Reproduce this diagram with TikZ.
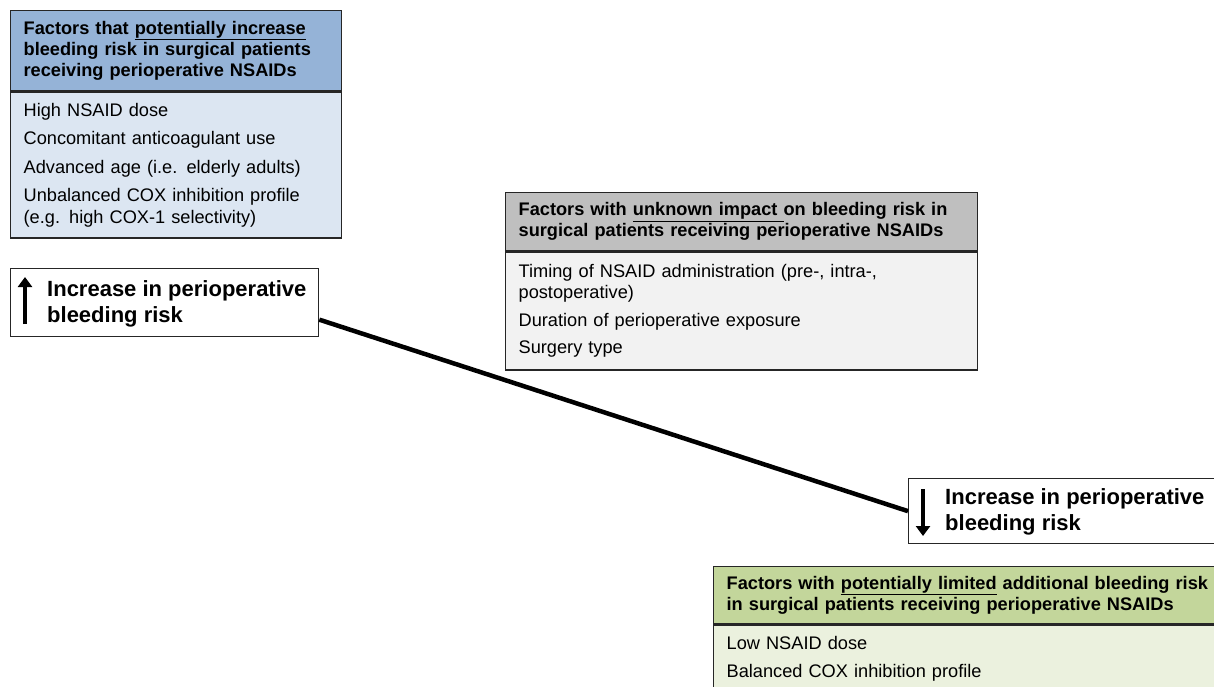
\documentclass[tikz,border=0pt]{standalone}
\usepackage{fontspec}
\setmainfont{Liberation Sans}
\usetikzlibrary{positioning,arrows.meta}

\definecolor{blauK}{HTML}{95B3D7}
\definecolor{blauR}{HTML}{DCE6F2}
\definecolor{grauK}{HTML}{BFBFBF}
\definecolor{grauR}{HTML}{F2F2F2}
\definecolor{gruenK}{HTML}{C3D69B}
\definecolor{gruenR}{HTML}{EBF1DE}

\begin{document}
\begin{tikzpicture}[
		x=1pt, y=-1pt,
		kopf/.style={draw=black!85, line width=1.3pt, anchor=north west, align=left, inner xsep=13pt, inner ysep=0pt, font=\fontsize{18.2}{21}\selectfont\bfseries},
		rumpf/.style={draw=black!85, line width=1.3pt, anchor=north west, align=left, inner xsep=13pt, inner ysep=0pt, font=\fontsize{18.2}{21.5}\selectfont},
		rahmen/.style={draw=black!85, line width=1.3pt, anchor=north west, inner sep=0pt, fill=white},
		etik/.style={anchor=west, align=left, inner sep=0pt, font=\fontsize{22}{25.5}\selectfont\bfseries},
		pfeil/.style={-{Triangle[length=10pt,width=14pt]}, line width=3.4pt, black},
		linie/.style={line width=4.5pt, black},
		]
		
		\clip (0,0) rectangle (1214,686);
		\fill[white] (0,0) rectangle (1214,686);
		
		%%=== verbindungslinie (unter den rahmen) ===
		\node[rahmen, minimum width=308pt, minimum height=68pt] (suF) at (10,268) {};
		\node[rahmen, minimum width=306pt, minimum height=65pt] (sdF) at (908,478) {};
		\draw[linie] ([yshift=-17pt]suF.east) -- (sdF.west);
		
		%%=== box oben links: erhoehtes risiko ===
		\node[kopf, fill=blauK, text width=305pt, minimum height=80pt] (incH) at (10,10)
			{Factors that \underline{potentially increase}\\ bleeding risk in surgical patients\\ receiving perioperative NSAIDs};
		\node[rumpf, fill=blauR, text width=305pt, minimum height=146pt] (incB) at (incH.south west)
			{High NSAID dose\\[7pt] Concomitant anticoagulant use\\[7pt] Advanced age (i.e. elderly adults)\\[7pt]
			 Unbalanced COX inhibition profile\\ (e.g. high COX-1 selectivity)};
		
		%%=== box mitte: unbekannter einfluss ===
		\node[kopf, fill=grauK, text width=446pt, minimum height=58pt] (unkH) at (505,192)
			{Factors with \underline{unknown impact }on bleeding risk in\\ surgical patients receiving perioperative NSAIDs};
		\node[rumpf, fill=grauR, text width=446pt, minimum height=118pt] (unkB) at (unkH.south west)
			{Timing of NSAID administration (pre-, intra-,\\ postoperative)\\[6pt] Duration of perioperative exposure\\[6pt] Surgery type};
		
		%%=== box unten rechts: begrenztes risiko (rechts und unten abgeschnitten) ===
		\node[kopf, fill=gruenK, text width=486pt, minimum height=57pt] (limH) at (713,566)
			{Factors with \underline{potentially limited} additional bleeding risk\\ in surgical patients receiving perioperative NSAIDs};
		\node[rumpf, fill=gruenR, text width=486pt, inner ysep=11pt] (limB) at (limH.south west)
			{Low NSAID dose\\[7pt] Balanced COX inhibition profile\\[7pt] \phantom{X}};
		
		%%=== pfeil-etiketten ===
		\node[etik] (suT) at (47,304) {Increase in perioperative\\ bleeding risk};
		\coordinate (suA) at (25,324);
		\coordinate (suB) at (25,277);
		\draw[pfeil] (suA) -- (suB);
		
		\node[etik] (sdT) at (945,512) {Increase in perioperative\\ bleeding risk};
		\coordinate (sdA) at (923,489);
		\coordinate (sdB) at (923,536);
		\draw[pfeil] (sdA) -- (sdB);
		
	\end{tikzpicture}
\end{document}
